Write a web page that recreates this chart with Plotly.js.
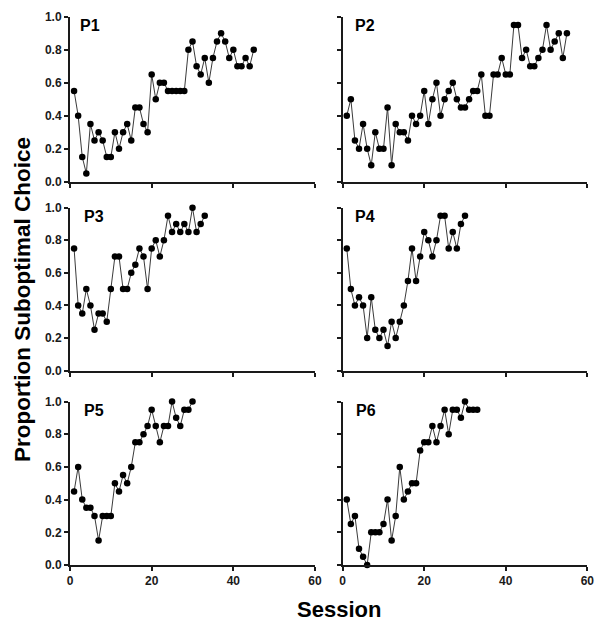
<!DOCTYPE html>
<html>
<head>
<meta charset="utf-8">
<script src="https://cdn.plot.ly/plotly-3.0.1.min.js"></script>
<style>
  html, body { margin: 0; padding: 0; background: #fff; }
  #chart { width: 608px; height: 635px; }
</style>
</head>
<body>
<div id="chart"></div>
<script>
// ---- Data (proportion of suboptimal choices per session) ----
const panelLabels = ["P1", "P2", "P3", "P4", "P5", "P6"];

const p1 = [0.55, 0.40, 0.15, 0.05, 0.35, 0.25, 0.30, 0.25, 0.15, 0.15,
            0.30, 0.20, 0.30, 0.35, 0.25, 0.45, 0.45, 0.35, 0.30, 0.65,
            0.50, 0.60, 0.60, 0.55, 0.55, 0.55, 0.55, 0.55, 0.80, 0.85,
            0.70, 0.65, 0.75, 0.60, 0.75, 0.85, 0.90, 0.85, 0.75, 0.80,
            0.70, 0.70, 0.75, 0.70, 0.80];

const p2 = [0.40, 0.50, 0.25, 0.20, 0.35, 0.20, 0.10, 0.30, 0.20, 0.20,
            0.45, 0.10, 0.35, 0.30, 0.30, 0.25, 0.40, 0.35, 0.40, 0.55,
            0.35, 0.50, 0.60, 0.40, 0.50, 0.55, 0.60, 0.50, 0.45, 0.45,
            0.50, 0.55, 0.55, 0.65, 0.40, 0.40, 0.65, 0.65, 0.75, 0.65,
            0.65, 0.95, 0.95, 0.75, 0.80, 0.70, 0.70, 0.75, 0.80, 0.95,
            0.80, 0.85, 0.90, 0.75, 0.90];

const p3 = [0.75, 0.40, 0.35, 0.50, 0.40, 0.25, 0.35, 0.35, 0.30, 0.50,
            0.70, 0.70, 0.50, 0.50, 0.60, 0.65, 0.75, 0.70, 0.50, 0.75,
            0.80, 0.70, 0.80, 0.95, 0.85, 0.90, 0.85, 0.90, 0.85, 1.00,
            0.85, 0.90, 0.95];

const p4 = [0.75, 0.50, 0.40, 0.45, 0.40, 0.20, 0.45, 0.25, 0.20, 0.25,
            0.15, 0.30, 0.20, 0.30, 0.40, 0.55, 0.75, 0.55, 0.70, 0.85,
            0.80, 0.70, 0.80, 0.95, 0.95, 0.75, 0.85, 0.75, 0.90, 0.95];

const p5 = [0.45, 0.60, 0.40, 0.35, 0.35, 0.30, 0.15, 0.30, 0.30, 0.30,
            0.50, 0.45, 0.55, 0.50, 0.60, 0.75, 0.75, 0.80, 0.85, 0.95,
            0.85, 0.75, 0.85, 0.85, 1.00, 0.90, 0.85, 0.95, 0.95, 1.00];

const p6 = [0.40, 0.25, 0.30, 0.10, 0.05, 0.00, 0.20, 0.20, 0.20, 0.25,
            0.40, 0.15, 0.30, 0.60, 0.40, 0.45, 0.50, 0.50, 0.70, 0.75,
            0.75, 0.85, 0.75, 0.85, 0.95, 0.80, 0.95, 0.95, 0.90, 1.00,
            0.95, 0.95, 0.95];

const series = [p1, p2, p3, p4, p5, p6];

const xTickVals = [0, 20, 40, 60];
const yTickVals = [0, 0.2, 0.4, 0.6, 0.8, 1.0];
const yTitle = "Proportion Suboptimal Choice";
const xTitle = "Session";

// ---- Layout geometry ----
const W = 608, H = 635;
const colPx = [[70, 315], [342.7, 587.3]];
const rowPx = [[16.7, 181.7], [207.7, 370.5], [401.5, 565]];
const labelX = [1.95, 2.5, 2.95, 2.5, 2.95, 2.75];

const FONT = "Liberation Sans, Arial, Helvetica, sans-serif";
const INK = "#1a1a1a";

const traces = [];
const layout = {
  width: W, height: H,
  margin: {l: 0, r: 0, t: 0, b: 0},
  paper_bgcolor: "#ffffff",
  plot_bgcolor: "#ffffff",
  showlegend: false,
  font: {family: FONT, color: INK},
  annotations: []
};

series.forEach((vals, i) => {
  const row = Math.floor(i / 2), col = i % 2;
  const n = i + 1;
  const xa = n === 1 ? "x" : "x" + n;
  const ya = n === 1 ? "y" : "y" + n;
  const sessions = vals.map((_, k) => k + 1);

  traces.push({
    type: "scatter", mode: "lines+markers",
    x: sessions, y: vals, xaxis: xa, yaxis: ya,
    cliponaxis: false,
    line: {color: "#3a3a3a", width: 1},
    marker: {color: "#000000", size: 6.5, symbol: "circle"},
    hoverinfo: "skip"
  });

  const xKey = n === 1 ? "xaxis" : "xaxis" + n;
  const yKey = n === 1 ? "yaxis" : "yaxis" + n;

  layout[xKey] = {
    domain: [colPx[col][0] / W, colPx[col][1] / W],
    anchor: ya,
    range: [0, 60],
    tickvals: xTickVals,
    ticks: "outside", ticklen: 4, tickwidth: 2, tickcolor: INK,
    showline: true, linewidth: 2, linecolor: INK,
    showgrid: false, zeroline: false,
    showticklabels: row === 2,
    tickfont: {family: FONT, size: 12, weight: "bold", color: INK},
    fixedrange: true
  };
  layout[yKey] = {
    domain: [1 - rowPx[row][1] / H, 1 - rowPx[row][0] / H],
    anchor: xa,
    range: [0, 1],
    tickvals: yTickVals,
    tickformat: ".1f",
    ticks: "outside", ticklen: 4, tickwidth: 2, tickcolor: INK,
    showline: true, linewidth: 2, linecolor: INK,
    showgrid: false, zeroline: false,
    showticklabels: col === 0,
    tickfont: {family: FONT, size: 12, weight: "bold", color: INK},
    fixedrange: true
  };

  layout.annotations.push({
    xref: xa, yref: ya, x: labelX[i], y: 0.945,
    xanchor: "left", yanchor: "middle",
    text: panelLabels[i], showarrow: false,
    font: {family: FONT, size: 16, weight: "bold", color: "#000"}
  });
});

layout.annotations.push({
  xref: "paper", yref: "paper",
  x: 22 / W, y: 1 - 300 / H,
  xanchor: "center", yanchor: "middle",
  textangle: -90,
  text: yTitle, showarrow: false,
  font: {family: FONT, size: 22.5, weight: "bold", color: "#000"}
});
layout.annotations.push({
  xref: "paper", yref: "paper",
  x: 339 / W, y: 1 - 609 / H,
  xanchor: "center", yanchor: "middle",
  text: xTitle, showarrow: false,
  font: {family: FONT, size: 22, weight: "bold", color: "#000"}
});

Plotly.newPlot("chart", traces, layout, {displayModeBar: false, staticPlot: true});
</script>
</body>
</html>
